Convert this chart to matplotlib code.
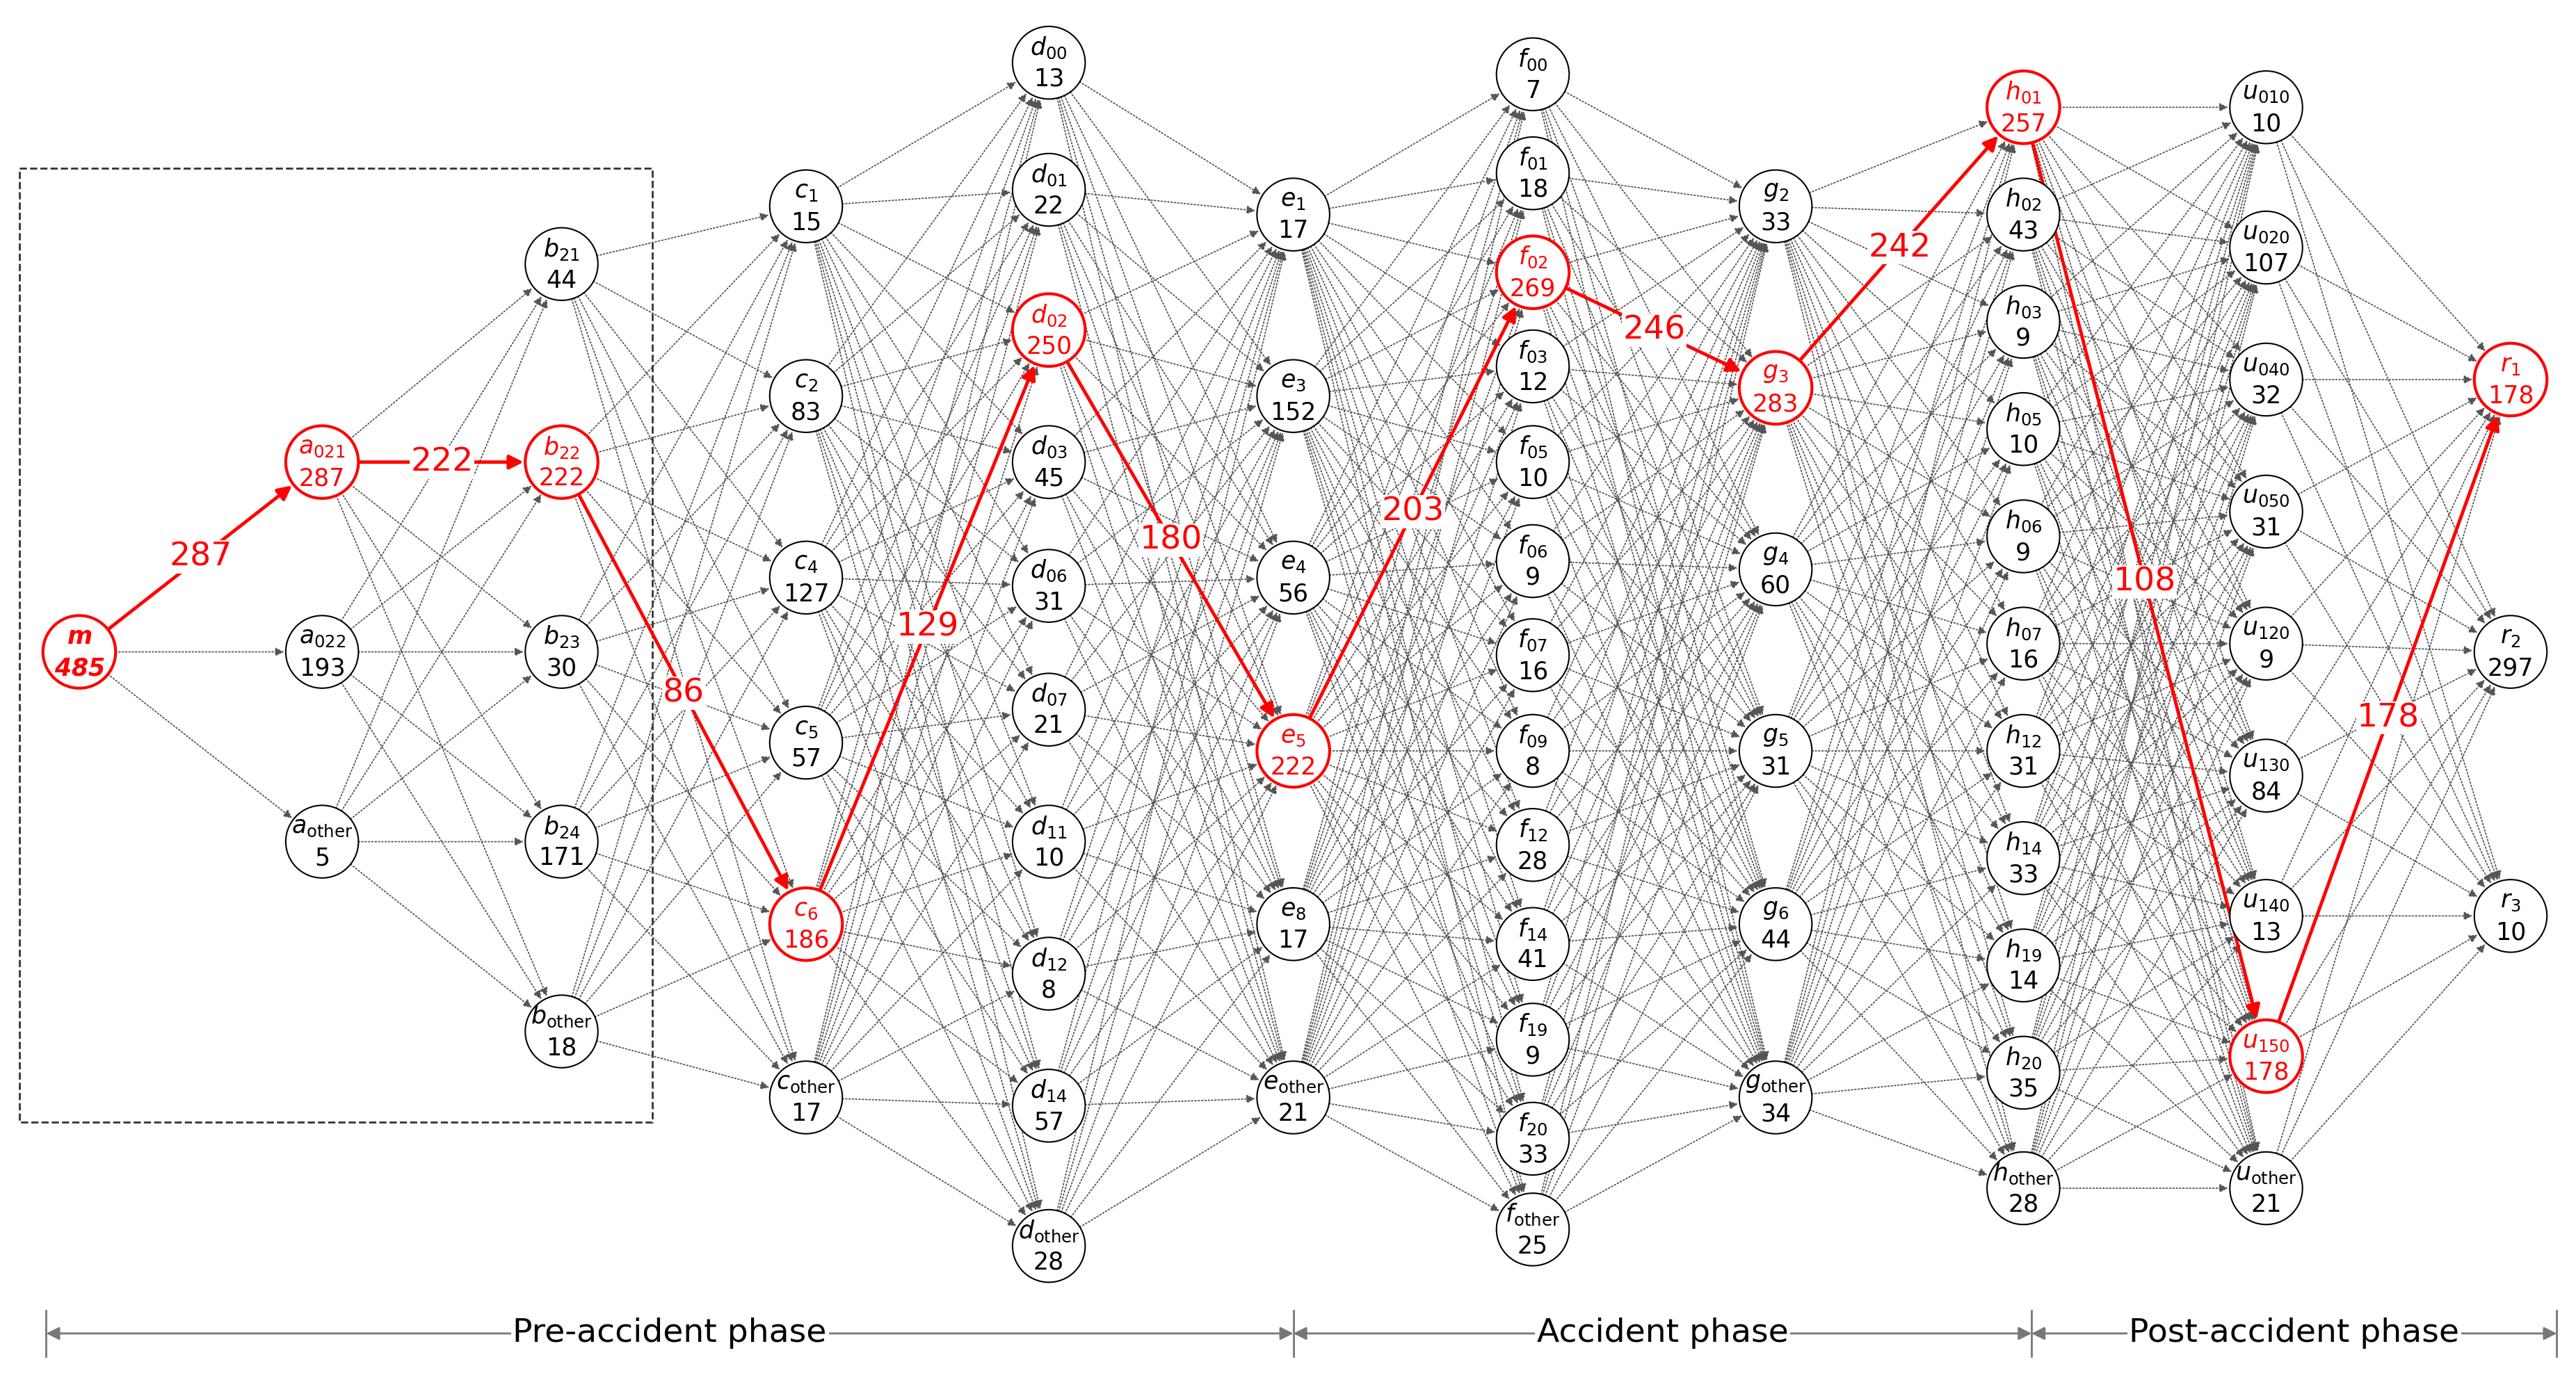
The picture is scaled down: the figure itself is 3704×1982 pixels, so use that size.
import numpy as np
import matplotlib
matplotlib.use("Agg")
import matplotlib.pyplot as plt
from matplotlib.patches import Circle, Rectangle

# columns of the flow graph: (letter, x, [(subscript, count, y)])
col_x = [48, 195, 340, 488, 635, 783, 928, 1075, 1225, 1372, 1520]
letters = ['m', 'a', 'b', 'c', 'd', 'e', 'f', 'g', 'h', 'u', 'r']
subs = [
    [''],
    ['021', '022', 'other'],
    ['21', '22', '23', '24', 'other'],
    ['1', '2', '4', '5', '6', 'other'],
    ['00', '01', '02', '03', '06', '07', '11', '12', '14', 'other'],
    ['1', '3', '4', '5', '8', 'other'],
    ['00', '01', '02', '03', '05', '06', '07', '09', '12', '14', '19', '20', 'other'],
    ['2', '3', '4', '5', '6', 'other'],
    ['01', '02', '03', '05', '06', '07', '12', '14', '19', '20', 'other'],
    ['010', '020', '040', '050', '120', '130', '140', '150', 'other'],
    ['1', '2', '3'],
]
counts = [
    [485],
    [287, 193, 5],
    [44, 222, 30, 171, 18],
    [15, 83, 127, 57, 186, 17],
    [13, 22, 250, 45, 31, 21, 10, 8, 57, 28],
    [17, 152, 56, 222, 17, 21],
    [7, 18, 269, 12, 10, 9, 16, 8, 28, 41, 9, 33, 25],
    [33, 283, 60, 31, 44, 34],
    [257, 43, 9, 10, 9, 16, 31, 33, 14, 35, 28],
    [10, 107, 32, 31, 9, 84, 13, 178, 21],
    [178, 297, 10],
]
col_y = [
    [395],
    [280, 395, 510],
    [160, 280, 395, 510, 625],
    [125, 240, 350, 450, 560, 665],
    [38, 115, 200, 280, 355, 430, 510, 590, 670, 755],
    [130, 240, 350, 455, 560, 665],
    [45, 105, 165, 222, 280, 340, 397, 455, 512, 572, 630, 690, 745],
    [125, 235, 345, 455, 560, 665],
    [65, 130, 195, 260, 325, 390, 455, 520, 585, 650, 720],
    [65, 150, 230, 310, 390, 470, 555, 640, 720],
    [230, 395, 555],
]
# red critical path: index of node in each column and flow values between
path_idx = [0, 0, 1, 4, 2, 3, 2, 1, 0, 7, 0]
path_flow = ['287', '222', '86', '129', '180', '203', '246', '242', '108', '178']

R = 22
RED = '#ff0000'

fig = plt.figure(figsize=(37.05, 19.82), dpi=100)
ax = fig.add_axes([0, 0, 1, 1])
ax.set_xlim(0, 1560)
ax.set_ylim(835, 0)
ax.axis('off')


def edge_pts(p, q, r=R):
    d = np.subtract(q, p)
    u = d / np.hypot(*d)
    return p + u * r, q - u * (r + 1)


# gray dotted all-to-all edges
for k in range(len(col_x) - 1):
    for i, y0 in enumerate(col_y[k]):
        for j, y1 in enumerate(col_y[k + 1]):
            if i == path_idx[k] and j == path_idx[k + 1]:
                continue
            s, e = edge_pts(np.array([col_x[k], y0]), np.array([col_x[k + 1], y1]))
            ax.annotate('', xy=e, xytext=s,
                        arrowprops=dict(arrowstyle='-|>', linestyle=':', color='#555555',
                                        lw=1.3, mutation_scale=18, shrinkA=0, shrinkB=0))

# red path
for k in range(len(col_x) - 1):
    p = np.array([col_x[k], col_y[k][path_idx[k]]])
    q = np.array([col_x[k + 1], col_y[k + 1][path_idx[k + 1]]])
    s, e = edge_pts(p, q)
    ax.annotate('', xy=e, xytext=s,
                arrowprops=dict(arrowstyle='-|>', color=RED, lw=3.5,
                                mutation_scale=30, shrinkA=0, shrinkB=0))
    mx, my = (p + q) / 2
    ax.text(mx, my, path_flow[k], color=RED, fontsize=34, ha='center', va='center',
            bbox=dict(facecolor='white', edgecolor='none', pad=1))

# nodes
for k, x in enumerate(col_x):
    for i, y in enumerate(col_y[k]):
        red = i == path_idx[k]
        c = RED if red else 'black'
        ax.add_patch(Circle((x, y), R, facecolor='white', edgecolor=c, lw=3 if red else 1.5, zorder=5))
        s = subs[k][i]
        if k == 0:
            lab = r'$\mathbfit{m}$'
            num = r'$\mathbfit{485}$'
        else:
            sub = r'\rm other' if s == 'other' else s
            lab = r'$%s_{%s}$' % (letters[k], sub)
            num = str(counts[k][i])
        ax.text(x, y - 9, lab, color=c, fontsize=25, ha='center', va='center', zorder=6)
        ax.text(x, y + 10, num, color=c, fontsize=25, ha='center', va='center', zorder=6)

# dashed box around the pre-accident part
ax.add_patch(Rectangle((12, 102), 383, 578, fill=False, ls='--', lw=2, ec='#333333'))

# phase arrows
phases = [(28, 783, 'Pre-accident phase'), (783, 1230, 'Accident phase'),
          (1230, 1548, 'Post-accident phase')]
yb = 808
for x0, x1, name in phases:
    ax.annotate('', xy=(x1, yb), xytext=(x0, yb),
                arrowprops=dict(arrowstyle='<|-|>', color='#777777', lw=2,
                                mutation_scale=28, shrinkA=0, shrinkB=0))
    ax.text((x0 + x1) / 2, yb, name, fontsize=34, ha='center', va='center',
            bbox=dict(facecolor='white', edgecolor='none', pad=2))
for xv in [28, 783, 1230, 1548]:
    ax.plot([xv, xv], [yb - 14, yb + 14], color='#777777', lw=2)

fig.savefig('out.png', dpi=100)
